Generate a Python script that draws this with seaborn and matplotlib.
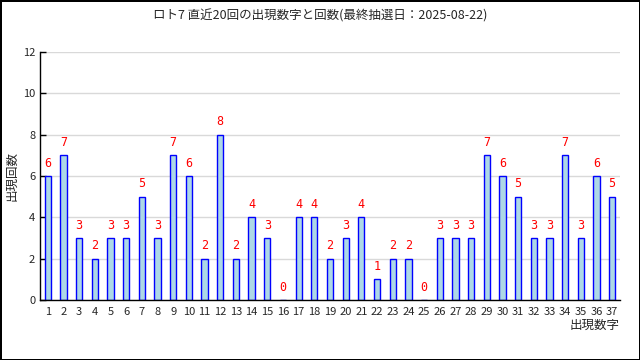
import matplotlib
matplotlib.use("Agg")
import matplotlib.pyplot as plt
import seaborn as sns
import numpy as np
import pandas as pd

# 出現数字と回数（直近20回）
numbers = list(range(1, 38))
counts = [6, 7, 3, 2, 3, 3, 5, 3, 7, 6, 2, 8, 2, 4, 3, 0, 4, 4, 2, 3,
          4, 1, 2, 2, 0, 3, 3, 3, 7, 6, 5, 3, 3, 7, 3, 6, 5]
title = "ロト7 直近20回の出現数字と回数(最終抽選日：2025-08-22)"

sns.set_style("white")
plt.rcParams['font.family'] = ['Noto Sans CJK JP', 'DejaVu Sans']

df = pd.DataFrame({"num": numbers, "cnt": counts})

fig = plt.figure(figsize=(6.4, 3.6), dpi=100)
fig.patch.set_edgecolor('black')
fig.patch.set_linewidth(2)
ax = fig.add_axes([40 / 640, 60 / 360, 580 / 640, 248 / 360])

sns.barplot(data=df, x="num", y="cnt", native_scale=True, width=0.4,
            color='lightblue', edgecolor='blue', linewidth=1, saturation=1, ax=ax)

# 棒の上に回数を表示
for n, c in zip(numbers, counts):
    ax.text(n, c + 0.3, str(c), color='red', ha='center', va='bottom',
            fontsize=8.5, family='DejaVu Sans Mono')

ax.set_xlim(0.5, 37.5)
ax.set_ylim(0, 12)
ax.set_yticks(range(0, 13, 2))
ax.set_xticks(numbers)
ax.set_xticks(np.arange(1.5, 37.5, 1), minor=True)
ax.tick_params(axis='x', which='major', length=0, labelsize=8, pad=5)
ax.tick_params(axis='x', which='minor', direction='in', length=4, width=1, color='black')
ax.tick_params(axis='y', direction='in', length=4, width=1, labelsize=8, left=True, color='black')
ax.yaxis.grid(True, color='#d9d9d9', linewidth=1)
ax.set_axisbelow(True)
for s in ['top', 'right']:
    ax.spines[s].set_visible(False)
for s in ['left', 'bottom']:
    ax.spines[s].set_color('black')
    ax.spines[s].set_linewidth(1)

ax.set_xlabel("出現数字", fontsize=9)
ax.xaxis.set_label_coords(1.0, -0.075)
ax.xaxis.label.set_ha('right')
ax.set_ylabel("出現回数", fontsize=9)
ax.yaxis.set_label_coords(-0.038, 0.5)

fig.suptitle(title, y=0.975, fontsize=9)

fig.savefig("out.png", dpi=100, edgecolor=fig.get_edgecolor())
